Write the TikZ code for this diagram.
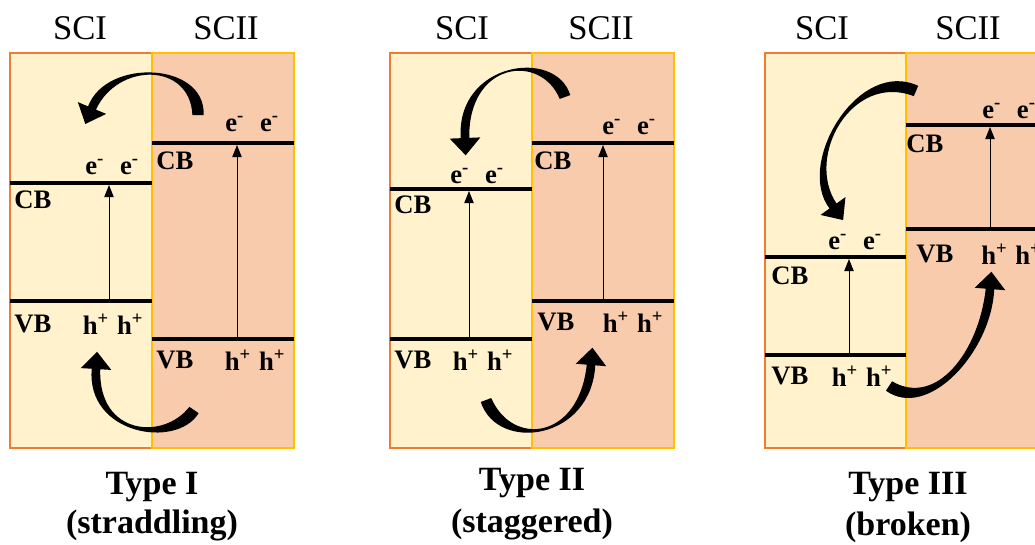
\documentclass[tikz,border=0pt]{standalone}
\usepackage{fontspec}
\setmainfont{Liberation Serif}
\usetikzlibrary{arrows.meta,calc}
\definecolor{scifill}{HTML}{FFF2CC}
\definecolor{sciifill}{HTML}{F8CBAD}
\definecolor{sciedge}{HTML}{ED7D31}
\definecolor{sciiedge}{HTML}{FFC000}
\tikzset{
  boxI/.style={fill=scifill,draw=sciedge,line width=1.5pt},
  boxII/.style={fill=sciifill,draw=sciiedge,line width=1.5pt},
  band/.style={line width=3.6pt},
  excite/.style={line width=0.7pt,-{Triangle[length=9pt,width=7pt]}},
  lbl/.style={font=\bfseries\fontsize{20}{22}\selectfont,inner sep=0pt},
  scname/.style={font=\fontsize{26}{28}\selectfont,inner sep=0pt},
  title/.style={font=\bfseries\fontsize{25.5}{28}\selectfont,inner sep=0pt},
}
\newcommand{\ee}{e\textsuperscript{-}\hspace{12pt}e\textsuperscript{-}}
\newcommand{\hplus}{h\textsuperscript{+}\hspace{6pt}h\textsuperscript{+}}
% bent block arrow: #1 tail, #2 ctrl1, #3 ctrl2, #4 head base
\newcommand{\bentarrow}[4]{%
  \fill ($(#1)!4.2pt!90:(#2)$) .. controls ($(#2)!6pt!-90:(#1)$) and ($(#3)!4.6pt!90:(#4)$) .. ($(#4)!3.2pt!-90:(#3)$)
    -- ($(#4)!11.5pt!-90:(#3)$) -- ($(#4)!13pt!180:(#3)$) -- ($(#4)!11.5pt!90:(#3)$)
    -- ($(#4)!3.2pt!90:(#3)$) .. controls ($(#3)!4.6pt!-90:(#4)$) and ($(#2)!6pt!90:(#1)$) .. ($(#1)!4.2pt!-90:(#2)$) -- cycle;}
\begin{document}
\begin{tikzpicture}[x=0.75pt,y=-0.75pt]
\useasboundingbox (0,0) rectangle (1035,544);
\clip (0,0) rectangle (1035,544);

% ================= Type I =================
\draw[boxI] (10,53) rectangle (152,448);
\draw[boxII] (152,53) rectangle (294,448);
\draw[band] (10,183) -- (152,183);
\draw[band] (10,301) -- (152,301);
\draw[band] (152,143) -- (294,143);
\draw[band] (152,339) -- (294,339);
\coordinate (p1lv) at (109,301); \coordinate (p1lc) at (109,185);
\coordinate (p1rv) at (237,339); \coordinate (p1rc) at (237,145);
\draw[excite] (p1lv) -- (p1lc);
\draw[excite] (p1rv) -- (p1rc);
\node[scname] (p1sci) at (80,28) {SCI};
\node[scname] (p1scii) at (226,28) {SCII};
\node[lbl] (p1le) at (112,167) {\ee};
\node[lbl] (p1lcb) at (33,200) {CB};
\node[lbl] (p1lvb) at (33,324) {VB};
\node[lbl] (p1lh) at (113,324) {\hplus};
\node[lbl] (p1re) at (252,124) {\ee};
\node[lbl] (p1rcb) at (175,161) {CB};
\node[lbl] (p1rvb) at (175,360) {VB};
\node[lbl] (p1rh) at (255,360) {\hplus};
\coordinate (p1t0) at (198,115); \coordinate (p1t1) at (198,62);
\coordinate (p1t2) at (112,60);  \coordinate (p1t3) at (92,108);
\bentarrow{p1t0}{p1t1}{p1t2}{p1t3}
\coordinate (p1b0) at (194,410); \coordinate (p1b1) at (170,445);
\coordinate (p1b2) at (92,435);  \coordinate (p1b3) at (96,369);
\bentarrow{p1b0}{p1b1}{p1b2}{p1b3}
\node[title] (p1type) at (152,487) {Type I};
\node[title] (p1name) at (152,525) {(straddling)};

% ================= Type II =================
\draw[boxI] (390,53) rectangle (532,448);
\draw[boxII] (532,53) rectangle (674,448);
\draw[band] (390,189) -- (532,189);
\draw[band] (390,339) -- (532,339);
\draw[band] (532,143) -- (674,143);
\draw[band] (532,301) -- (674,301);
\coordinate (p2lv) at (469,339); \coordinate (p2lc) at (469,191);
\coordinate (p2rv) at (603,301); \coordinate (p2rc) at (603,145);
\draw[excite] (p2lv) -- (p2lc);
\draw[excite] (p2rv) -- (p2rc);
\node[scname] (p2sci) at (462,28) {SCI};
\node[scname] (p2scii) at (601,28) {SCII};
\node[lbl] (p2le) at (477,176) {\ee};
\node[lbl] (p2lcb) at (413,205) {CB};
\node[lbl] (p2lvb) at (413,360) {VB};
\node[lbl] (p2lh) at (483,360) {\hplus};
\node[lbl] (p2re) at (629,127) {\ee};
\node[lbl] (p2rcb) at (553,161) {CB};
\node[lbl] (p2rvb) at (556,322) {VB};
\node[lbl] (p2rh) at (633,322) {\hplus};
\coordinate (p2t0) at (565,97);  \coordinate (p2t1) at (548,50);
\coordinate (p2t2) at (462,62);  \coordinate (p2t3) at (465,138);
\bentarrow{p2t0}{p2t1}{p2t2}{p2t3}
\coordinate (p2b0) at (486,400); \coordinate (p2b1) at (505,450);
\coordinate (p2b2) at (585,440); \coordinate (p2b3) at (591,365);
\bentarrow{p2b0}{p2b1}{p2b2}{p2b3}
\node[title] (p2type) at (532,483) {Type II};
\node[title] (p2name) at (532,524) {(staggered)};

% ================= Type III =================
\draw[boxI] (765,53) rectangle (906,448);
\draw[boxII] (906,53) rectangle (1048,448);
\draw[band] (765,257) -- (906,257);
\draw[band] (765,355) -- (906,355);
\draw[band] (906,125) -- (1048,125);
\draw[band] (906,229) -- (1048,229);
\coordinate (p3lv) at (849,355); \coordinate (p3lc) at (849,259);
\coordinate (p3rv) at (990,229); \coordinate (p3rc) at (990,127);
\draw[excite] (p3lv) -- (p3lc);
\draw[excite] (p3rv) -- (p3rc);
\node[scname] (p3sci) at (822,28) {SCI};
\node[scname] (p3scii) at (968,28) {SCII};
\node[lbl] (p3le) at (855,242) {\ee};
\node[lbl] (p3lcb) at (790,276) {CB};
\node[lbl] (p3lvb) at (790,376) {VB};
\node[lbl] (p3lh) at (862,376) {\hplus};
\node[lbl,anchor=west] (p3re) at (982,111) {\ee};
\node[lbl] (p3rcb) at (925,144) {CB};
\node[lbl] (p3rvb) at (935,254) {VB};
\node[lbl,anchor=west] (p3rh) at (981,254) {\hplus};
\coordinate (p3t0) at (916,91);  \coordinate (p3t1) at (855,65);
\coordinate (p3t2) at (800,160); \coordinate (p3t3) at (833,206);
\bentarrow{p3t0}{p3t1}{p3t2}{p3t3}
\coordinate (p3b0) at (889,386); \coordinate (p3b1) at (932,414);
\coordinate (p3b2) at (985,352); \coordinate (p3b3) at (990,289);
\bentarrow{p3b0}{p3b1}{p3b2}{p3b3}
\node[title] (p3type) at (908,487) {Type III};
\node[title] (p3name) at (908,527) {(broken)};
\end{tikzpicture}
\end{document}
